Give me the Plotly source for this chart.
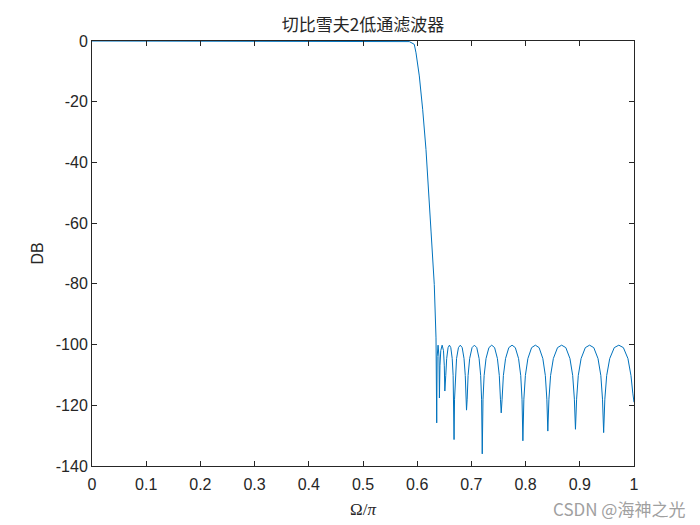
import plotly.graph_objects as go

# Frequency (normalized, Omega/pi) and magnitude (dB)
freq = [0.0, 0.1, 0.2, 0.3, 0.4, 0.5, 0.55, 0.575, 0.5854, 0.5886, 0.5946, 0.5978,
        0.6039, 0.6101, 0.613, 0.6162, 0.6255, 0.6315, 0.6347,
        0.636, 0.6368, 0.6385, 0.6402, 0.641,
        0.6420, 0.6435, 0.646, 0.6485, 0.650, 0.651,
        0.6527, 0.6544, 0.657, 0.6595, 0.662, 0.6646, 0.6663, 0.6673, 0.668,
        0.6689, 0.6703, 0.6726, 0.6761, 0.6795, 0.6830, 0.6864, 0.6887, 0.6900, 0.691,
        0.6922, 0.6939, 0.6968, 0.7012, 0.7055, 0.7099, 0.7142, 0.7171, 0.7188, 0.720,
        0.7214, 0.7235, 0.727, 0.7323, 0.7375, 0.7428, 0.748, 0.7515, 0.7536, 0.755,
        0.7566, 0.759, 0.763, 0.769, 0.775, 0.781, 0.787, 0.791, 0.7934, 0.795,
        0.7968, 0.7996, 0.8042, 0.8111, 0.818, 0.8249, 0.8318, 0.8364, 0.8392, 0.841,
        0.843, 0.8461, 0.8512, 0.8589, 0.8665, 0.8742, 0.8818, 0.8869, 0.890, 0.892,
        0.8941, 0.8972, 0.9024, 0.9102, 0.918, 0.9258, 0.9336, 0.9388, 0.9419, 0.944,
        0.9462, 0.9496, 0.9552, 0.9636, 0.972, 0.9804, 0.9888, 0.9944, 0.9978, 1.0]
mag_db = [0.0, 0.0, 0.0, 0.0, 0.0, 0.0, 0.0, -0.05, -0.2, -0.5, -1.1, -3.9,
          -11.5, -22.5, -29.6, -35.7, -62.6, -80.2, -97.8,
          -125.8, -104.0, -100.2, -104.0, -117.6,
          -107.0, -102.0, -100.2, -102.0, -107.0, -115.3,
          -110.2, -104.6, -101.0, -100.2, -101.0, -104.6, -110.2, -118.0, -131.3,
          -118.0, -110.2, -104.6, -101.0, -100.2, -101.0, -104.6, -110.2, -118.0, -121.6,
          -118.0, -110.2, -104.6, -101.0, -100.2, -101.0, -104.6, -110.2, -118.0, -136.0,
          -118.0, -110.2, -104.6, -101.0, -100.2, -101.0, -104.6, -110.2, -118.0, -122.5,
          -118.0, -110.2, -104.6, -101.0, -100.2, -101.0, -104.6, -110.2, -118.0, -131.7,
          -118.0, -110.2, -104.6, -101.0, -100.2, -101.0, -104.6, -110.2, -118.0, -128.5,
          -118.0, -110.2, -104.6, -101.0, -100.2, -101.0, -104.6, -110.2, -118.0, -127.9,
          -118.0, -110.2, -104.6, -101.0, -100.2, -101.0, -104.6, -110.2, -118.0, -129.0,
          -118.0, -110.2, -104.6, -101.0, -100.2, -101.0, -104.6, -110.2, -116.0, -119.0]

x_tick_vals = [0, 0.1, 0.2, 0.3, 0.4, 0.5, 0.6, 0.7, 0.8, 0.9, 1]
x_tick_text = ["0", "0.1", "0.2", "0.3", "0.4", "0.5", "0.6", "0.7", "0.8", "0.9", "1"]
y_tick_vals = [0, -20, -40, -60, -80, -100, -120, -140]
y_tick_text = ["0", "-20", "-40", "-60", "-80", "-100", "-120", "-140"]

title_text = "切比雪夫2低通滤波器"
x_label = "Ω/<i>π</i>"
y_label = "DB"
watermark = "CSDN @海神之光"

W, H = 692, 517
ML, MR, MT, MB = 84, 66, 33, 59

fig = go.Figure()
fig.add_trace(go.Scatter(x=freq, y=mag_db, mode="lines",
                         line=dict(color="#0072BD", width=1), hoverinfo="skip"))

axis_common = dict(
    showgrid=False, zeroline=False, showline=True, linecolor="#262626", linewidth=1,
    mirror="ticks", ticks="inside", ticklen=5, tickcolor="#262626", tickwidth=1,
    automargin=False,
    tickfont=dict(family="Liberation Sans, Arial, sans-serif", size=16, color="#262626"),
)

fig.update_layout(
    width=W, height=H,
    margin=dict(l=ML, r=MR, t=MT, b=MB, autoexpand=False),
    paper_bgcolor="white", plot_bgcolor="white",
    showlegend=False,
    title=dict(text=title_text, x=(ML + (W - MR)) / 2 / W, xanchor="center",
               y=1 - 17 / H, yanchor="middle", automargin=False,
               font=dict(family="Noto Sans CJK SC, sans-serif", size=17, color="#262626")),
    xaxis=dict(range=[0, 1], tickvals=x_tick_vals, ticktext=x_tick_text,
               ticklabelstandoff=4,
               title=dict(text=x_label, standoff=10,
                          font=dict(family="Liberation Serif, DejaVu Serif, serif",
                                    size=17, color="#262626")),
               **axis_common),
    yaxis=dict(range=[-140, 0], tickvals=y_tick_vals, ticktext=y_tick_text,
               title=dict(text=y_label, standoff=8,
                          font=dict(family="Liberation Sans, Arial, sans-serif",
                                    size=16, color="#262626")),
               **axis_common),
)

fig.add_annotation(text=watermark, xref="paper", yref="paper",
                   x=(686 - 91) / 542, y=-(507 - 465) / 425,
                   xanchor="right", yanchor="middle", showarrow=False,
                   font=dict(family="Noto Sans CJK SC, sans-serif", size=17, color="#a0a0a0"))

fig.write_html("out.html")
